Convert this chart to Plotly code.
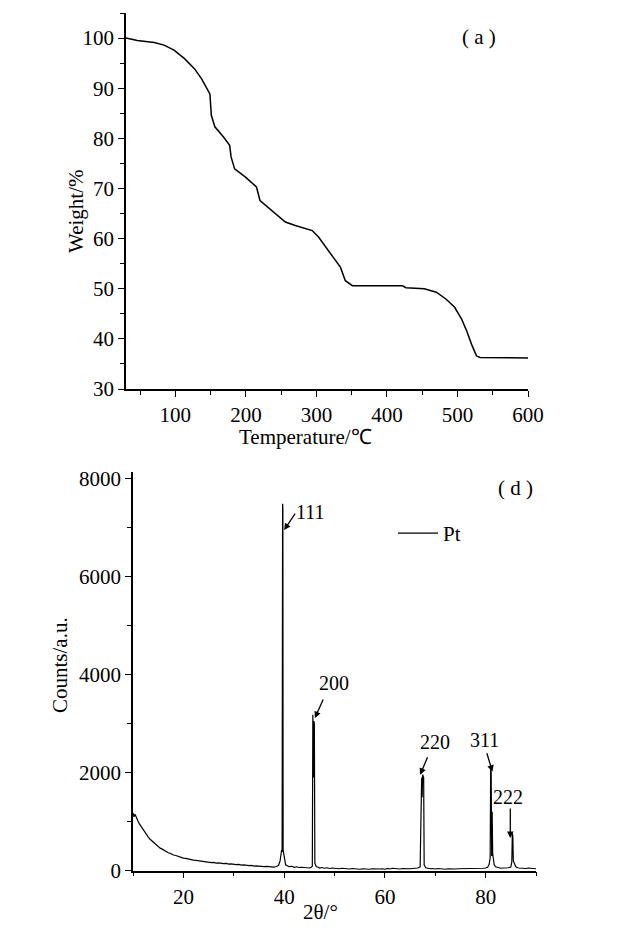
import plotly.graph_objects as go

# ---- TGA data (panel a) ----
temperature = [30, 46, 70, 84, 98, 113, 127, 137, 146, 149, 151, 156, 168, 177, 179, 184,
               199, 215, 220, 237, 256, 270, 284, 294, 303, 313, 322, 334, 341, 351, 422,
               427, 453, 470, 484, 496, 506, 513, 520, 527, 532, 570, 600]
weight = [100, 99.5, 99.1, 98.6, 97.6, 95.9, 93.9, 91.9, 89.6, 88.8, 84.6, 82.3, 80.3, 78.6,
          76.3, 73.9, 72.3, 70.3, 67.6, 65.6, 63.3, 62.6, 62.1, 61.6, 60.3, 58.3, 56.6, 54.3,
          51.6, 50.6, 50.6, 50.2, 50.0, 49.3, 47.9, 46.3, 43.9, 41.6, 38.9, 36.6, 36.3, 36.3, 36.2]

# ---- XRD data (panel d) ----
two_theta = [10.0, 10.2, 10.4, 10.7, 11.0, 11.3, 11.6, 12.0, 12.3, 12.7, 13.0, 13.4, 13.8, 14.2,
             14.6, 15.0, 15.4, 15.8, 16.2, 16.6, 17.0, 17.5, 18.0, 18.5, 19.0, 19.5, 20.0, 20.5,
             21.0, 21.5, 22.0, 22.5, 23.0, 23.5, 24.0, 24.5, 25.0, 25.5, 26.0, 26.5, 27.0, 27.5,
             28.0, 28.5, 29.0, 29.5, 30.0, 30.5, 31.0, 31.5, 32.0, 32.5, 33.0, 33.5, 34.0, 34.5,
             35.0, 35.5, 36.0, 36.5, 37.0, 37.5, 38.0, 38.5, 38.9, 39.2, 39.5, 39.6, 39.7, 39.75,
             39.8, 40.0, 40.3, 40.7, 41.0, 41.5, 42.0, 42.5, 43.0, 43.5, 44.0, 44.5, 45.0, 45.4,
             45.6, 45.7, 45.8, 45.9, 46.0, 46.1, 46.4, 46.8, 47.0, 47.5, 48.0, 48.5, 49.0, 49.5,
             50.0, 50.5, 51.0, 51.5, 52.0, 52.5, 53.0, 53.5, 54.0, 54.5, 55.0, 55.5, 56.0, 56.5,
             57.0, 57.5, 58.0, 58.5, 59.0, 59.5, 60.0, 60.5, 61.0, 61.5, 62.0, 62.5, 63.0, 63.5,
             64.0, 64.5, 65.0, 65.5, 66.0, 66.5, 67.0, 67.3, 67.4, 67.5, 67.7, 67.8, 68.1, 68.5,
             69.0, 69.5, 70.0, 70.5, 71.0, 71.5, 72.0, 72.5, 73.0, 73.5, 74.0, 74.5, 75.0, 75.5,
             76.0, 76.5, 77.0, 77.5, 78.0, 78.5, 79.0, 79.5, 80.0, 80.4, 80.7, 80.9, 81.0, 81.1,
             81.2, 81.3, 81.4, 81.7, 82.0, 82.5, 83.0, 83.5, 84.0, 84.5, 85.0, 85.2, 85.3, 85.4,
             85.5, 85.7, 86.0, 86.5, 87.0, 87.5, 88.0, 88.5, 89.0, 89.5, 90.0]
counts = [1180, 1100, 1150, 1060, 1010, 950, 900, 840, 800, 730, 690, 640, 600, 570,
          520, 500, 460, 440, 410, 395, 365, 350, 320, 310, 290, 275, 255, 250,
          235, 230, 215, 210, 200, 195, 185, 180, 175, 165, 170, 155, 160, 150,
          145, 150, 135, 140, 130, 125, 130, 115, 120, 110, 105, 110, 95, 100,
          90, 95, 85, 90, 80, 85, 75, 85, 110, 200, 420, 380, 7480, 7400,
          420, 250, 120, 95, 85, 90, 70, 80, 65, 70, 60, 65, 55, 70,
          90, 3180, 1900, 3050, 3000, 150, 80, 70, 55, 65, 50, 60, 45, 55,
          45, 50, 40, 50, 40, 45, 35, 45, 35, 40, 30, 40, 35, 45,
          30, 40, 35, 45, 35, 40, 30, 45, 35, 50, 40, 45, 35, 45,
          40, 50, 40, 45, 45, 55, 80, 1900, 1500, 1960, 1900, 120, 60, 50,
          40, 45, 35, 45, 35, 40, 30, 40, 35, 45, 35, 40, 40, 45,
          35, 45, 40, 50, 40, 50, 45, 50, 55, 70, 130, 260, 2080, 2000,
          300, 1200, 350, 120, 80, 60, 50, 55, 50, 60, 75, 180, 760, 700,
          200, 150, 80, 55, 50, 60, 45, 55, 50, 45, 40]
assert len(two_theta) == len(counts)

peak_labels = ["111", "200", "220", "311", "222"]
label_x = [45.3, 49.9, 69.9, 79.8, 84.5]
label_y = [7313, 3828, 2624, 2665, 1503]
arrow_x = [40.0, 46.1, 67.0, 81.35, 84.9]
arrow_y = [6946, 3113, 1955, 2017, 666]
arrow_ax = [12, 9, 8, -6, 0]
arrow_ay = [-18, -20, -19, -20, -31]

FONT = "Liberation Serif"
FS = 21

fig = go.Figure()
fig.add_trace(go.Scatter(x=temperature, y=weight, mode="lines",
                         line=dict(color="black", width=1.5),
                         showlegend=False, xaxis="x", yaxis="y"))
fig.add_trace(go.Scatter(x=two_theta, y=counts, mode="lines", name="Pt",
                         line=dict(color="black", width=1.2),
                         showlegend=True, xaxis="x2", yaxis="y2"))

axis_common = dict(showline=True, linecolor="black", linewidth=1.5, ticks="outside",
                   tickcolor="black", ticklen=6, tickwidth=1.3, showgrid=False,
                   zeroline=False, mirror=False, automargin=False,
                   tickfont=dict(family=FONT, size=FS, color="black"))

fig.update_layout(
    width=631, height=950,
    margin=dict(l=0, r=0, t=0, b=0, autoexpand=False),
    paper_bgcolor="white", plot_bgcolor="white",
    font=dict(family=FONT, color="black"),
    xaxis=dict(domain=[126/631, 528/631], range=[30, 600], tickvals=[100, 200, 300, 400, 500, 600],
               minor=dict(dtick=50, tick0=0, ticklen=4, ticks="outside", tickcolor="black"),
               anchor="y", **axis_common),
    yaxis=dict(domain=[1 - 389/950, 1 - 13/950], range=[30, 105],
               tickvals=[30, 40, 50, 60, 70, 80, 90, 100],
               minor=dict(dtick=5, tick0=0, ticklen=4, ticks="outside", tickcolor="black"),
               anchor="x", **axis_common),
    xaxis2=dict(domain=[133/631, 536/631], range=[10, 90], tickvals=[20, 40, 60, 80],
                minor=dict(dtick=10, tick0=0, ticklen=4, ticks="outside", tickcolor="black"),
                anchor="y2", **axis_common),
    yaxis2=dict(domain=[1 - 870.7/950, 1 - 471.7/950], range=[0, 8135],
                tickvals=[0, 2000, 4000, 6000, 8000],
                minor=dict(dtick=1000, tick0=0, ticklen=4, ticks="outside", tickcolor="black"),
                anchor="x2", **axis_common),
    legend=dict(x=393/631, y=1 - 513/950, xanchor="left", yanchor="top",
                bgcolor="rgba(0,0,0,0)", font=dict(family=FONT, size=FS),
                itemwidth=40, tracegroupgap=0),
    showlegend=True,
)

def paper_text(text, px, py, angle=0):
    return dict(text=text, x=px/631, y=1 - py/950, xref="paper", yref="paper",
                xanchor="center", yanchor="middle", showarrow=False, textangle=angle,
                font=dict(family=FONT, size=FS))

annotations = [
    paper_text("( a )", 479, 37),
    paper_text("( d )", 515, 488),
    paper_text("Weight/%", 76, 212, -90),
    paper_text("Temperature/℃", 305, 437),
    paper_text("Counts/a.u.", 60, 665, -90),
    paper_text("2θ/°", 320, 912),
]
for t, lx, ly in zip(peak_labels, label_x, label_y):
    annotations.append(dict(text=t, x=lx, y=ly, xref="x2", yref="y2", showarrow=False,
                            xanchor="center", yanchor="middle",
                            font=dict(family=FONT, size=20)))
for hx, hy, axo, ayo in zip(arrow_x, arrow_y, arrow_ax, arrow_ay):
    annotations.append(dict(text="", x=hx, y=hy, xref="x2", yref="y2", showarrow=True,
                            ax=axo, ay=ayo, arrowhead=2, arrowsize=1, arrowwidth=1.3,
                            arrowcolor="black"))
fig.update_layout(annotations=annotations)

fig.write_html("out.html", config={"displayModeBar": False},
               post_script="document.body.style.margin='0';document.body.style.overflow='hidden';")
